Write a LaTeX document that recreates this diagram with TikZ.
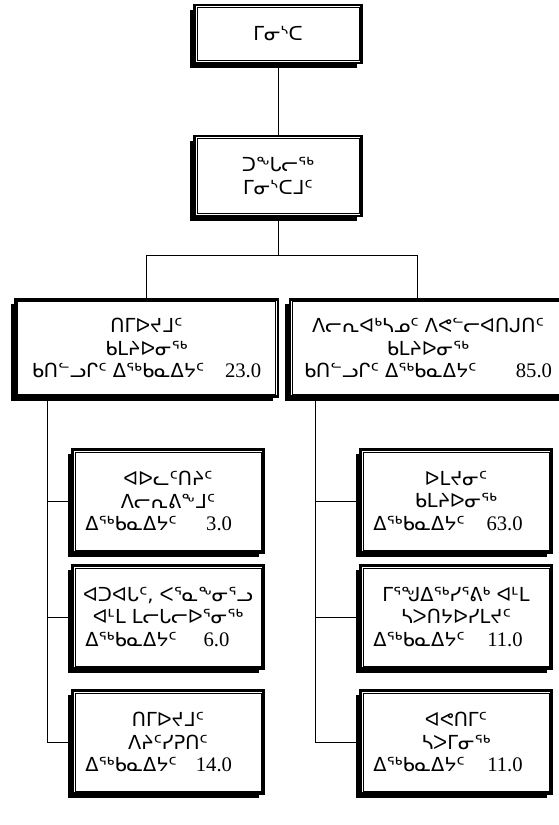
\documentclass[tikz,border=0pt]{standalone}
\usepackage{fontspec}
\setmainfont{Liberation Serif}
\newfontfamily\syl{DejaVu Sans}
\usetikzlibrary{shadows,backgrounds}
\tikzset{
    org-box/.style = {draw, line width=2pt, fill=white, rectangle, align=center, inner sep=0pt,
        font=\syl\fontsize{14.5}{17.2}\selectfont,
        drop shadow={shadow xshift=-3.5pt, shadow yshift=-3.5pt, fill=black, opacity=1}},
    top-box/.style = {org-box, minimum width=125pt, minimum height=43.5pt},
    head-box/.style = {org-box, minimum height=73pt},
    unit-box/.style = {org-box, minimum width=143pt, minimum height=77pt},
    org-line/.style = {line width=1pt},
}
% label left, staff number right
\newcommand{\countline}[4][0pt]{\makebox[#2]{#3\hfill{\rmfamily\fontsize{15.5}{17.2}\selectfont #4}\hspace{#1}}}

\begin{document}
\begin{tikzpicture}[x=0.75pt, y=-0.75pt]
\useasboundingbox (0,0) rectangle (559,825);
% minister and deputy
\node[top-box] (mn) at (278,34) {ᒥᓂᔅᑕ};
\node[top-box, minimum height=60pt] (dm) at (278,176) {ᑐᖕᒐᓕᖅ\\ᒥᓂᔅᑕᒧᑦ};
% divisions
\node[head-box, minimum width=197pt] (cm) at (146.5,348) {ᑎᒥᐅᔪᒧᑦ\\ᑲᒪᔨᐅᓂᖅ\\\countline{172pt}{ᑲᑎᓪᓗᒋᑦ ᐃᖅᑲᓇᐃᔭᑦ}{23.0}};
\node[head-box, minimum width=207pt] (pd) at (428,348) {ᐱᓕᕆᐊᒃᓴᓄᑦ ᐱᕙᓪᓕᐊᑎᒍᑎᑦ\\ᑲᒪᔨᐅᓂᖅ\\\countline{186pt}{ᑲᑎᓪᓗᒋᑦ ᐃᖅᑲᓇᐃᔭᑦ}{85.0}};
% sections
\node[unit-box] (ca) at (168,501) {ᐊᐅᓚᑦᑎᔨᑦ\\ᐱᓕᕆᕕᖕᒧᑦ\\\countline[14pt]{124pt}{ᐃᖅᑲᓇᐃᔭᑦ}{3.0}};
\node[unit-box] (cb) at (168,617) {ᐊᑐᐊᒐᑦ, ᐸᕐᓇᖕᓂᕐᓗ\\ᐊᒻᒪ ᒪᓕᒐᓕᐅᕐᓂᖅ\\\countline[16pt]{124pt}{ᐃᖅᑲᓇᐃᔭᑦ}{6.0}};
\node[unit-box] (cc) at (168,742) {ᑎᒥᐅᔪᒧᑦ\\ᐱᔨᑦᓯᕈᑎᑦ\\\countline[14pt]{124pt}{ᐃᖅᑲᓇᐃᔭᑦ}{14.0}};
\node[unit-box] (pa) at (456,501) {ᐅᒪᔪᓂᑦ\\ᑲᒪᔨᐅᓂᖅ\\\countline[12pt]{124pt}{ᐃᖅᑲᓇᐃᔭᑦ}{63.0}};
\node[unit-box] (pb) at (456,617) {ᒥᕐᖑᐃᖅᓯᕐᕕᒃ ᐊᒻᒪ\\ᓴᐳᑎᔭᐅᓯᒪᔪᑦ\\\countline[12pt]{124pt}{ᐃᖅᑲᓇᐃᔭᑦ}{11.0}};
\node[unit-box] (pc) at (456,742) {ᐊᕙᑎᒥᑦ\\ᓴᐳᒥᓂᖅ\\\countline[12pt]{124pt}{ᐃᖅᑲᓇᐃᔭᑦ}{11.0}};
% thin inner frame
\foreach \n in {mn,dm,cm,pd,ca,cb,cc,pa,pb,pc}
    \draw[line width=0.6pt] ([shift={(2.7pt,-2.7pt)}]\n.north west) rectangle ([shift={(-2.7pt,2.7pt)}]\n.south east);
% connectors
\begin{scope}[on background layer, org-line]
\draw (mn) -- (dm);
\draw (dm.south) -- ++(0,38) -| (cm.north);
\draw (dm.south) -- ++(0,38) -| ([xshift=-8pt]pd.north);
\foreach \n in {ca,cb,cc}
    \draw (cm.south west) ++(33,0) |- (\n.west);
\foreach \n in {pa,pb,pc}
    \draw (pd.south west) ++(27,0) |- (\n.west);
\end{scope}
\end{tikzpicture}
\end{document}
